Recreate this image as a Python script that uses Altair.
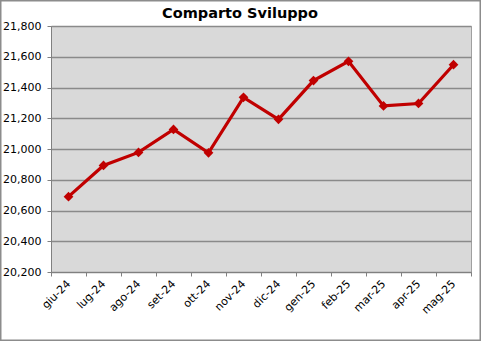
import altair as alt
import pandas as pd

months = ["giu-24", "lug-24", "ago-24", "set-24", "ott-24", "nov-24",
          "dic-24", "gen-25", "feb-25", "mar-25", "apr-25", "mag-25"]
values = [20690, 20893, 20978, 21127, 20975, 21336,
          21193, 21445, 21570, 21280, 21296, 21548]
title_text = "Comparto Sviluppo"

df = pd.DataFrame({"mese": months, "valore": values})

FONT = "DejaVu Sans"
RED = "#C00000"

x = alt.X("mese:N", sort=months, title=None,
          scale=alt.Scale(paddingInner=0, paddingOuter=0),
          axis=alt.Axis(labelAngle=-45, labelAlign="right", labelBaseline="middle",
                        tickBand="extent", tickSize=4, labelPadding=6,
                        labelFont=FONT, labelFontSize=11, labelColor="#000000",
                        domainColor="#808080", tickColor="#808080", grid=False))
y = alt.Y("valore:Q", title=None,
          scale=alt.Scale(domain=[20200, 21800], zero=False, nice=False),
          axis=alt.Axis(values=list(range(20200, 21801, 200)), format=",d",
                        tickSize=4, labelPadding=6,
                        labelFont=FONT, labelFontSize=11, labelColor="#000000",
                        domainColor="#808080", tickColor="#808080",
                        grid=True, gridColor="#8a8a8a", gridWidth=1.3))

line = alt.Chart(df).mark_line(color=RED, strokeWidth=3.2).encode(x=x, y=y)
pts = alt.Chart(df).mark_point(shape="diamond", filled=True, color=RED,
                               size=95, opacity=1).encode(x=x, y=y)

deco = alt.Data(values=[{}])
border = alt.Chart(deco).mark_rect(
    fill=None, stroke="#8c8c8c", strokeWidth=1.5, clip=False
).encode(x=alt.value(-50.25), x2=alt.value(429.25),
         y=alt.value(-25.25), y2=alt.value(314.25))
title = alt.Chart(deco).mark_text(
    font=FONT, fontSize=14.5, fontWeight="bold", color="#000000",
    align="center", baseline="alphabetic", clip=False
).encode(text=alt.value(title_text), x=alt.value(189), y=alt.value(-8.5))

chart = alt.layer(border, line, pts, title).properties(
    width=420, height=246,
    autosize=alt.AutoSizeParams(type="none"),
    padding={"left": 51, "top": 26, "right": 10, "bottom": 69},
).configure(background="#FFFFFF").configure_view(
    fill="#D9D9D9", stroke="#a0a0a0", strokeWidth=1
)

chart.save("out.html", embed_options={"renderer": "svg", "actions": False})
